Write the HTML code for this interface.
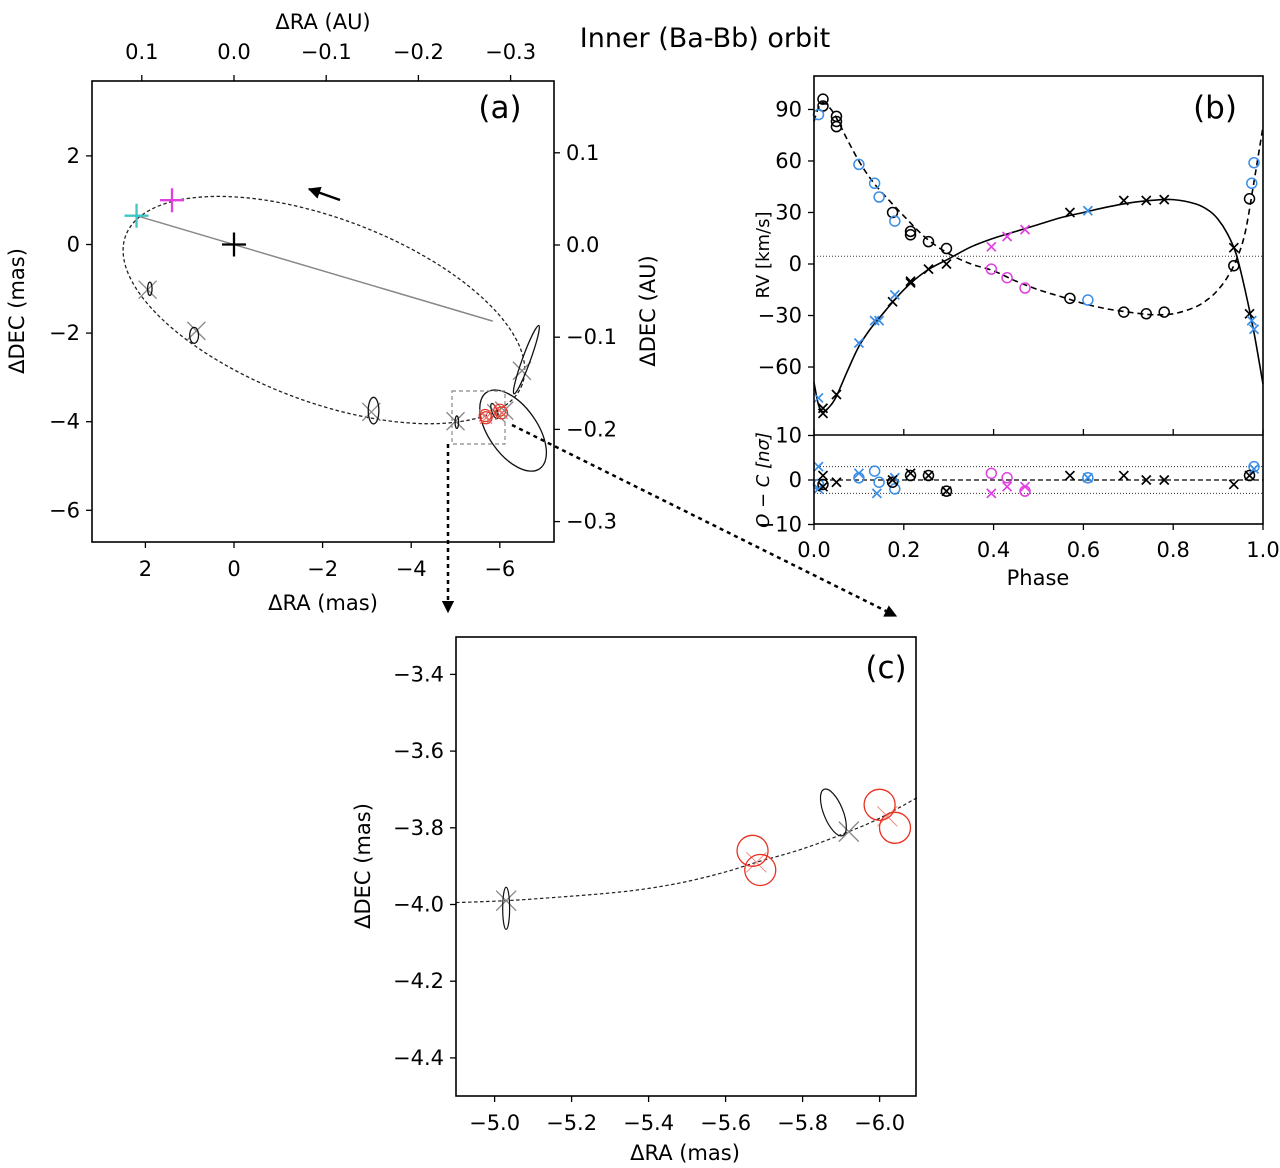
<!DOCTYPE html>
<html><head><meta charset="utf-8">
<style>
html,body{margin:0;padding:0;background:#fff;}
svg{display:block;font-family:"DejaVu Sans","Liberation Sans",sans-serif;}
</style></head>
<body>
<svg id="fig" width="1280" height="1168" viewBox="0 0 1280 1168" xmlns="http://www.w3.org/2000/svg">
<defs>
<marker id="ah" viewBox="0 0 10 10" refX="9" refY="5" markerWidth="5" markerHeight="5" orient="auto"><path d="M0,0 L10,5 L0,10 z" fill="#000"/></marker>
</defs>
<text x="705" y="47" font-size="27" text-anchor="middle">Inner (Ba-Bb) orbit</text>
<g id="pa"></g>
<g id="pb"></g>
<g id="pc"></g>
</svg>
<script>
// ---------- Panel (a) data ----------
const aXTicks = [2, 0, -2, -4, -6];
const aYTicks = [2, 0, -2, -4, -6];
const aTopTicks = [0.1, 0.0, -0.1, -0.2, -0.3];
const aRightTicks = [0.1, 0.0, -0.1, -0.2, -0.3];
const orbitCenter = [-2.03, -1.48];
const orbitAxes = [4.78, 2.07];
const orbitAngle = 20.6;
const apsisLine = [[2.2, 0.65], [-5.84, -1.73]];
const errEllipses = [[1.9,-1.0,0.05,0.15,0],[0.9,-2.05,0.1,0.18,0],[-3.15,-3.75,0.12,0.3,0],[-5.03,-4.01,0.04,0.14,0],[-6.3,-4.2,0.55,1.05,-35],[-6.6,-2.6,0.09,0.82,20],[-5.88,-3.76,0.06,0.18,-20]];
const grayX = [[1.95,-1.02],[0.85,-1.95],[-3.1,-3.78],[-5.0,-3.99],[-6.5,-2.85],[-5.92,-3.81],[-6.1,-3.75]];
const redPts = [[-5.67,-3.86],[-5.69,-3.91],[-6.0,-3.74],[-6.04,-3.80]];
const crossPts = [[2.2,0.65,'#40c4c4'],[1.4,1.0,'#e040e0'],[0,0,'#000']];

// ---------- Panel (b) data ----------
const rvTicks = [90, 60, 30, 0, -30, -60];
const phaseTicks = [0.0, 0.2, 0.4, 0.6, 0.8, 1.0];
const resTicks = [10, 0, -10];
const solPhase = [0,0.01,0.02,0.035,0.05,0.075,0.1,0.125,0.15,0.2,0.25,0.3,0.35,0.4,0.45,0.5,0.55,0.6,0.65,0.7,0.75,0.8,0.85,0.88,0.9,0.92,0.94,0.96,0.98,1.0];
const solRV = [-69,-82,-86,-83,-77,-62,-48,-38,-30,-15,-4,3,10,15,19,23,27,30,33,35.5,37,37.5,35,31,26,18,6,-15,-40,-70];
const dasPhase = [0,0.01,0.02,0.035,0.05,0.075,0.1,0.125,0.15,0.2,0.25,0.3,0.35,0.4,0.45,0.5,0.55,0.6,0.65,0.7,0.75,0.8,0.85,0.88,0.9,0.92,0.94,0.96,0.98,1.0];
const dasRV = [83,91,94,91,85,72,60,50,42,28,15,6,0,-4,-10,-15,-19,-23,-26,-28,-29.5,-29,-25,-20,-15,-8,2,18,48,80];
const blkO = [[0.02,96],[0.02,92],[0.05,86],[0.05,83],[0.05,80],[0.175,30],[0.215,19],[0.215,17],[0.255,13],[0.295,9],[0.57,-20],[0.69,-28],[0.74,-29],[0.78,-28],[0.935,-1],[0.97,38]];
const bluO = [[0.01,87],[0.1,58],[0.135,47],[0.145,39],[0.18,25],[0.61,-21],[0.975,47],[0.98,59]];
const magO = [[0.395,-3],[0.43,-8],[0.47,-14]];
const blkX = [[0.02,-84],[0.02,-87],[0.05,-76],[0.175,-22],[0.215,-11],[0.215,-10],[0.255,-3],[0.295,0],[0.57,30],[0.69,37],[0.74,37],[0.78,37.5],[0.935,9.5],[0.97,-29]];
const bluX = [[0.01,-78],[0.1,-46],[0.135,-33],[0.145,-33],[0.18,-18],[0.61,31],[0.975,-33],[0.98,-38]];
const magX = [[0.395,10],[0.43,16],[0.47,20]];
const resBluX = [[0.01,3],[0.01,-2],[0.1,1.5],[0.14,-3],[0.18,0.5],[0.61,0.5],[0.98,2.5]];
const resBluO = [[0.01,-1],[0.1,0.5],[0.135,2],[0.145,-0.5],[0.18,-2],[0.61,0.5],[0.98,3]];
const resBlkX = [[0.02,1],[0.02,-1.5],[0.05,-0.5],[0.175,0],[0.215,1.5],[0.255,1],[0.295,-2.5],[0.57,1],[0.69,1],[0.74,0],[0.78,0],[0.935,-1],[0.97,1]];
const resBlkO = [[0.02,-1],[0.175,-0.5],[0.215,1],[0.255,1],[0.295,-2.5],[0.97,1]];
const resMagO = [[0.395,1.5],[0.43,0.5],[0.47,-2.5]];
const resMagX = [[0.395,-3],[0.43,-1.5],[0.47,-1.5]];

// ---------- Panel (c) data ----------
const cXTicks = [-5.0, -5.2, -5.4, -5.6, -5.8, -6.0];
const cYTicks = [-3.4, -3.6, -3.8, -4.0, -4.2, -4.4];
const cCurveRA = [-4.9,-5.03,-5.15,-5.3,-5.4,-5.5,-5.6,-5.68,-5.8,-5.92,-6.0,-6.1];
const cCurveDEC = [-3.995,-3.99,-3.982,-3.97,-3.958,-3.94,-3.915,-3.89,-3.855,-3.81,-3.775,-3.72];
const cEll = [[-5.03,-4.01,0.009,0.055,0],[-5.88,-3.76,0.025,0.065,-22]];
const cGrayX = [[-5.03,-3.99],[-5.92,-3.81]];
const cRed = [[-5.67,-3.86],[-5.69,-3.91],[-6.0,-3.74],[-6.04,-3.80]];
const cRedX = [[-5.68,-3.89],[-6.02,-3.77]];

const NS = 'http://www.w3.org/2000/svg';
function mk(parent, tag, attrs, name, inter) {
  const el = document.createElementNS(NS, tag);
  for (const k in attrs) el.setAttribute(k, attrs[k]);
  
  
  parent.appendChild(el);
  return el;
}
function txt(parent, x, y, s, size, anchor, name, extra) {
  const t = mk(parent, 'text', Object.assign({x: x, y: y, 'font-size': size, 'text-anchor': anchor || 'middle'}, extra || {}), name, false);
  t.textContent = s;
  return t;
}
function fmt(v, d) { const s = Math.abs(v).toFixed(d); return (v < 0 ? '\u2212' : '') + s; }
function xMark(g, x, y, h, color, w, name) {
  mk(g, 'path', {d: `M${x-h},${y-h}L${x+h},${y+h}M${x-h},${y+h}L${x+h},${y-h}`, stroke: color, 'stroke-width': w, fill: 'none'}, name, false);
}
function plus(g, x, y, h, color, w, name) {
  mk(g, 'path', {d: `M${x-h},${y}L${x+h},${y}M${x},${y-h}L${x},${y+h}`, stroke: color, 'stroke-width': w, fill: 'none'}, name, false);
}
function smooth(pts) {
  let d = `M${pts[0][0]},${pts[0][1]}`;
  for (let i = 0; i < pts.length - 1; i++) {
    const p0 = pts[Math.max(i-1,0)], p1 = pts[i], p2 = pts[i+1], p3 = pts[Math.min(i+2,pts.length-1)];
    const c1 = [p1[0]+(p2[0]-p0[0])/6, p1[1]+(p2[1]-p0[1])/6];
    const c2 = [p2[0]-(p3[0]-p1[0])/6, p2[1]-(p3[1]-p1[1])/6];
    d += `C${c1[0]},${c1[1]} ${c2[0]},${c2[1]} ${p2[0]},${p2[1]}`;
  }
  return d;
}
const FS = 21;

// ===== Panel A =====
(function(){
  const g = document.getElementById('pa');
  const L = 92, R = 554, T = 81, B = 542;
  const sx = v => 234 - 44.3 * v;
  const sy = v => 244.5 - 44.3 * v;
  const sxAU = v => 234 - 922 * v;
  const syAU = v => 245 - 922 * v;
  aXTicks.forEach(v => { mk(g,'line',{x1:sx(v),x2:sx(v),y1:B,y2:B+6,stroke:'#000','stroke-width':1.3},'x-tick',false); txt(g, sx(v), B+34, fmt(v,0), FS, 'middle', 'x-tick-label'); });
  aYTicks.forEach(v => { mk(g,'line',{x1:L-6,x2:L,y1:sy(v),y2:sy(v),stroke:'#000','stroke-width':1.3},'y-tick',false); txt(g, L-12, sy(v)+7, fmt(v,0), FS, 'end', 'y-tick-label'); });
  aTopTicks.forEach(v => { mk(g,'line',{x1:sxAU(v),x2:sxAU(v),y1:T-6,y2:T,stroke:'#000','stroke-width':1.3},'top-tick',false); txt(g, sxAU(v), T-22, fmt(v,1), FS, 'middle', 'top-tick-label'); });
  aRightTicks.forEach(v => { mk(g,'line',{x1:R,x2:R+6,y1:syAU(v),y2:syAU(v),stroke:'#000','stroke-width':1.3},'right-tick',false); txt(g, R+12, syAU(v)+7, fmt(v,1), FS, 'start', 'right-tick-label'); });
  txt(g, 323, 29, '\u0394RA (AU)', FS, 'middle', 'top-axis-title');
  txt(g, 323, 610, '\u0394RA (mas)', FS, 'middle', 'x-axis-title');
  txt(g, 0, 0, '\u0394DEC (mas)', FS, 'middle', 'y-axis-title', {transform: 'translate(24,311) rotate(-90)'});
  txt(g, 0, 0, '\u0394DEC (AU)', FS, 'middle', 'right-axis-title', {transform: 'translate(655,311) rotate(-90)'});
  txt(g, 500, 118, '(a)', 31, 'middle', 'panel-a-label');
  const ox = sx(orbitCenter[0]), oy = sy(orbitCenter[1]);
  mk(g,'ellipse',{cx:ox,cy:oy,rx:orbitAxes[0]*44.3,ry:orbitAxes[1]*44.3,transform:`rotate(${orbitAngle} ${ox} ${oy})`,fill:'none',stroke:'#222','stroke-width':1.3,'stroke-dasharray':'3.5,2.5'},'orbit-ellipse',false);
  mk(g,'line',{x1:sx(apsisLine[0][0]),y1:sy(apsisLine[0][1]),x2:sx(apsisLine[1][0]),y2:sy(apsisLine[1][1]),stroke:'#888','stroke-width':1.5},'line-of-apsides',false);
  mk(g,'line',{x1:340,y1:200,x2:309,y2:189,stroke:'#000','stroke-width':2.5,'marker-end':'url(#ah)'},'direction-arrow',false);
  grayX.forEach(p => xMark(g, sx(p[0]), sy(p[1]), 9, '#888', 1.3, 'model-position'));
  errEllipses.forEach(e => { const cx = sx(e[0]), cy = sy(e[1]); mk(g,'ellipse',{cx:cx,cy:cy,rx:e[2]*44.3,ry:e[3]*44.3,transform:`rotate(${e[4]} ${cx} ${cy})`,fill:'none',stroke:'#111','stroke-width':1.3},'astrometry-error-ellipse',false); });
  redPts.forEach(p => { mk(g,'circle',{cx:sx(p[0]),cy:sy(p[1]),r:6,fill:'none',stroke:'#e83020','stroke-width':1.2},'red-astrometry-point',false); xMark(g, sx(p[0]), sy(p[1]), 6, '#e86a60', 1, 'red-model-position'); });
  crossPts.forEach(p => plus(g, sx(p[0]), sy(p[1]), 12, p[2], 2.3, 'position-cross'));
  mk(g,'rect',{x:452,y:391,width:53,height:53,fill:'none',stroke:'#888','stroke-width':1.2,'stroke-dasharray':'4,3'},'zoom-box',false);
  mk(g,'rect',{x:L,y:T,width:R-L,height:B-T,fill:'none',stroke:'#000','stroke-width':1.6},'panel-a-frame',false);
  mk(g,'line',{x1:448,y1:444,x2:448,y2:612,stroke:'#000','stroke-width':2.5,'stroke-dasharray':'4,4','marker-end':'url(#ah)'},'zoom-arrow-down',false);
  mk(g,'line',{x1:512,y1:425,x2:896,y2:616,stroke:'#000','stroke-width':2.5,'stroke-dasharray':'4,4','marker-end':'url(#ah)'},'zoom-arrow-diagonal',false);
})();

// ===== Panel B =====
(function(){
  const g = document.getElementById('pb');
  const L = 814, R = 1263, T = 76, M = 435, B = 524;
  const sx = p => L + (R - L) * p;
  const sy = v => 264 - 1.717 * v;
  const sr = v => 480 - 4.45 * v;
  rvTicks.forEach(v => { mk(g,'line',{x1:L-6,x2:L,y1:sy(v),y2:sy(v),stroke:'#000','stroke-width':1.3},'rv-tick',false); txt(g, L-12, sy(v)+7, fmt(v,0), FS, 'end', 'rv-tick-label'); });
  resTicks.forEach(v => { mk(g,'line',{x1:L-6,x2:L,y1:sr(v),y2:sr(v),stroke:'#000','stroke-width':1.3},'res-tick',false); txt(g, L-12, sr(v)+7, fmt(v,0), FS, 'end', 'res-tick-label'); });
  phaseTicks.forEach(v => { mk(g,'line',{x1:sx(v),x2:sx(v),y1:B,y2:B+6,stroke:'#000','stroke-width':1.3},'phase-tick',false); mk(g,'line',{x1:sx(v),x2:sx(v),y1:M,y2:M-6,stroke:'#000','stroke-width':1.3},'phase-tick-inner',false); txt(g, sx(v), B+33, v.toFixed(1), FS, 'middle', 'phase-tick-label'); });
  txt(g, 1038, 585, 'Phase', FS, 'middle', 'x-axis-title');
  txt(g, 0, 0, 'RV [km/s]', 18, 'middle', 'rv-axis-title', {transform: 'translate(769,255) rotate(-90)'});
  txt(g, 0, 0, 'O \u2212 C [n\u03c3]', 18, 'middle', 'residual-axis-title', {transform: 'translate(769,480) rotate(-90)', 'font-style': 'italic'});
  txt(g, 1215, 118, '(b)', 31, 'middle', 'panel-b-label');
  mk(g,'line',{x1:L,x2:R,y1:sy(4.5),y2:sy(4.5),stroke:'#333','stroke-width':1,'stroke-dasharray':'1,2'},'systemic-velocity-line',false);
  [3,-3].forEach(v => mk(g,'line',{x1:L,x2:R,y1:sr(v),y2:sr(v),stroke:'#333','stroke-width':1,'stroke-dasharray':'1,2'},'sigma-line',false));
  mk(g,'line',{x1:L,x2:R,y1:sr(0),y2:sr(0),stroke:'#000','stroke-width':1.3,'stroke-dasharray':'5,3'},'zero-residual-line',false);
  mk(g,'path',{d:smooth(solPhase.map((p,i)=>[sx(p),sy(solRV[i])])),fill:'none',stroke:'#000','stroke-width':1.6},'secondary-model-curve',false);
  mk(g,'path',{d:smooth(dasPhase.map((p,i)=>[sx(p),sy(dasRV[i])])),fill:'none',stroke:'#000','stroke-width':1.6,'stroke-dasharray':'6,4'},'primary-model-curve',false);
  const circ = (arr, f, c, name) => arr.forEach(p => mk(g,'circle',{cx:sx(p[0]),cy:f(p[1]),r:5,fill:'none',stroke:c,'stroke-width':1.5},name,false));
  const xs = (arr, f, c, name) => arr.forEach(p => xMark(g, sx(p[0]), f(p[1]), 4.5, c, 1.7, name));
  circ(blkO, sy, '#000', 'primary-rv-black');
  circ(bluO, sy, '#3a8ee6', 'primary-rv-blue');
  circ(magO, sy, '#e040e0', 'primary-rv-magenta');
  xs(blkX, sy, '#000', 'secondary-rv-black');
  xs(bluX, sy, '#3a8ee6', 'secondary-rv-blue');
  xs(magX, sy, '#e040e0', 'secondary-rv-magenta');
  circ(resBluO, sr, '#3a8ee6', 'residual-primary-blue');
  circ(resBlkO, sr, '#000', 'residual-primary-black');
  circ(resMagO, sr, '#e040e0', 'residual-primary-magenta');
  xs(resBluX, sr, '#3a8ee6', 'residual-secondary-blue');
  xs(resBlkX, sr, '#000', 'residual-secondary-black');
  xs(resMagX, sr, '#e040e0', 'residual-secondary-magenta');
  mk(g,'rect',{x:L,y:T,width:R-L,height:B-T,fill:'none',stroke:'#000','stroke-width':1.6},'panel-b-frame',false);
  mk(g,'line',{x1:L,x2:R,y1:M,y2:M,stroke:'#000','stroke-width':1.6},'panel-b-divider',false);
})();

// ===== Panel C =====
(function(){
  const g = document.getElementById('pc');
  const L = 456, R = 916, T = 637, B = 1096;
  const sx = v => 494.6 - 385 * (v + 5.0);
  const sy = v => 904.5 - 383.5 * (v + 4.0);
  cXTicks.forEach(v => { mk(g,'line',{x1:sx(v),x2:sx(v),y1:B,y2:B+6,stroke:'#000','stroke-width':1.3},'x-tick',false); txt(g, sx(v), B+34, fmt(v,1), FS, 'middle', 'x-tick-label'); });
  cYTicks.forEach(v => { mk(g,'line',{x1:L-6,x2:L,y1:sy(v),y2:sy(v),stroke:'#000','stroke-width':1.3},'y-tick',false); txt(g, L-12, sy(v)+7, fmt(v,1), FS, 'end', 'y-tick-label'); });
  txt(g, 685, 1160, '\u0394RA (mas)', FS, 'middle', 'x-axis-title');
  txt(g, 0, 0, '\u0394DEC (mas)', FS, 'middle', 'y-axis-title', {transform: 'translate(370,866) rotate(-90)'});
  txt(g, 886, 678, '(c)', 31, 'middle', 'panel-c-label');
  mk(g,'path',{d:smooth(cCurveRA.map((v,i)=>[sx(v),sy(cCurveDEC[i])])),fill:'none',stroke:'#222','stroke-width':1.2,'stroke-dasharray':'3.5,2.5'},'orbit-segment',false);
  cGrayX.forEach(p => xMark(g, sx(p[0]), sy(p[1]), 10, '#888', 1.3, 'model-position'));
  cEll.forEach(e => { const cx = sx(e[0]), cy = sy(e[1]); mk(g,'ellipse',{cx:cx,cy:cy,rx:e[2]*385,ry:e[3]*383.5,transform:`rotate(${e[4]} ${cx} ${cy})`,fill:'none',stroke:'#111','stroke-width':1.2},'astrometry-error-ellipse',false); });
  cRedX.forEach(p => xMark(g, sx(p[0]), sy(p[1]), 10, '#f08a80', 1, 'red-model-position'));
  cRed.forEach(p => mk(g,'circle',{cx:sx(p[0]),cy:sy(p[1]),r:15.5,fill:'none',stroke:'#e83020','stroke-width':1.3},'red-astrometry-point',false));
  mk(g,'rect',{x:L,y:T,width:R-L,height:B-T,fill:'none',stroke:'#000','stroke-width':1.6},'panel-c-frame',false);
})();
</script>
</body></html>
